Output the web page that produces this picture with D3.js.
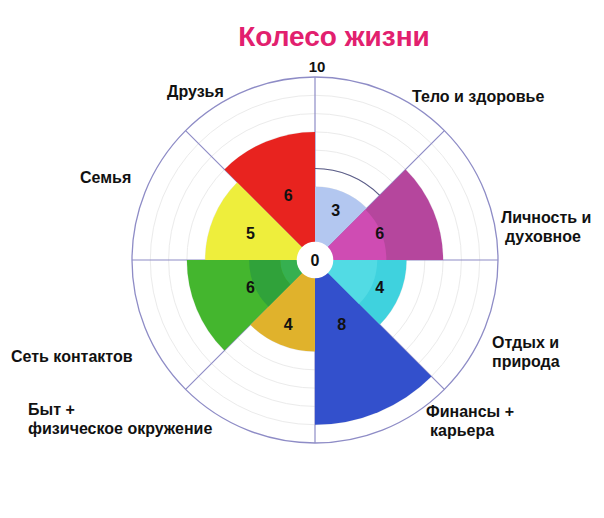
<!DOCTYPE html>
<html>
<head>
<meta charset="utf-8">
<script src="https://cdn.jsdelivr.net/npm/d3@7"></script>
<style>
  body { margin: 0; background: #fff; }
  text { font-family: "Liberation Sans", Arial, sans-serif; font-weight: bold; }
</style>
</head>
<body>
<div id="container"></div>
<script>
// Sectors clockwise from 12 o'clock
const categories = [
  ["Тело и здоровье"],
  ["Личность и", "духовное"],
  ["Отдых и", "природа"],
  ["Финансы +", "карьера"],
  ["Быт +", "физическое окружение"],
  ["Сеть контактов"],
  ["Семья"],
  ["Друзья"]
];
const values = [3, 6, 4, 8, 4, 6, 5, 6];
const sectorColors = ["#b3c7f0", "#b5469d", "#3fd2de", "#3350cc", "#e0b22c", "#44b62e", "#eeee3c", "#e8231f"];
const scaleLabels = ["0", "10"];
const title = "Колесо жизни";

const width = 604, height = 518;
const cx = 315, cy = 260, R = 183;

// label layout (left x, baseline y), indent of second line
const labelPos = [[412, 102], [501, 223], [492, 348], [426, 417], [28, 415], [11, 362], [80, 183], [167, 97]];
const lineIndent = [0, 4, 0, 4, 0, 0, 0, 0];

const svg = d3.select("#container")
  .append("svg")
  .attr("width", width)
  .attr("height", height);

const g = svg.append("g").attr("transform", `translate(${cx},${cy})`);

// value -> radius, 0 sits on the edge of the centre hole
const r = d3.scaleLinear().domain([-1, 9]).range([0, R]);
const step = 2 * Math.PI / categories.length;

// faint rings
g.selectAll("circle.ring")
  .data(d3.range(0, 9))
  .join("circle")
  .attr("class", "ring")
  .attr("r", d => r(d))
  .attr("fill", "none")
  .attr("stroke", "#ebebeb")
  .attr("stroke-width", 1);

// spokes
g.selectAll("line.spoke")
  .data(categories)
  .join("line")
  .attr("class", "spoke")
  .attr("x1", 0).attr("y1", 0)
  .attr("x2", (d, i) => R * Math.sin(i * step))
  .attr("y2", (d, i) => -R * Math.cos(i * step))
  .attr("stroke", "#8e8cc6")
  .attr("stroke-width", 1.2);

// outer circle
g.append("circle")
  .attr("r", r(9))
  .attr("fill", "none")
  .attr("stroke", "#8e8cc6")
  .attr("stroke-width", 1.3);

// darker arc in first sector
g.append("path")
  .attr("d", d3.arc()({ innerRadius: r(4), outerRadius: r(4), startAngle: 0, endAngle: step }))
  .attr("fill", "none")
  .attr("stroke", "#5a5c88")
  .attr("stroke-width", 1.2);

const arc = d3.arc();

// sectors
g.selectAll("path.sector")
  .data(values)
  .join("path")
  .attr("class", "sector")
  .attr("d", (d, i) => arc({ innerRadius: 0, outerRadius: r(d), startAngle: i * step, endAngle: (i + 1) * step }))
  .attr("fill", (d, i) => sectorColors[i]);

// inner shading seen in a few sectors
const shades = [
  { i: 1, from: -1, to: 2.9, color: "#cf4cb3" },
  { i: 2, from: -1, to: 2.4, color: "#52dbe4" },
  { i: 5, from: -1, to: 0.9, color: "#36b050" },
  { i: 5, from: 0.9, to: 2.6, color: "#30a23a" }
];
g.selectAll("path.shade")
  .data(shades)
  .join("path")
  .attr("class", "shade")
  .attr("d", d => arc({ innerRadius: r(d.from), outerRadius: r(d.to), startAngle: d.i * step, endAngle: (d.i + 1) * step }))
  .attr("fill", d => d.color);

// value labels
g.selectAll("text.value")
  .data(values)
  .join("text")
  .attr("class", "value")
  .attr("x", (d, i) => Math.min(r(d) - 19, 70) * Math.sin((i + 0.5) * step))
  .attr("y", (d, i) => -Math.min(r(d) - 19, 70) * Math.cos((i + 0.5) * step))
  .attr("dy", "0.36em")
  .attr("text-anchor", "middle")
  .attr("font-size", 16)
  .attr("fill", "#111")
  .text(d => d);

// centre hole
g.append("circle")
  .attr("r", r(0))
  .attr("fill", "#fff");

g.append("text")
  .attr("x", 0).attr("y", 0)
  .attr("dy", "0.36em")
  .attr("text-anchor", "middle")
  .attr("font-size", 16)
  .attr("fill", "#111")
  .text(scaleLabels[0]);

g.append("text")
  .attr("x", 2).attr("y", -r(9) - 5)
  .attr("text-anchor", "middle")
  .attr("font-size", 15)
  .attr("fill", "#111")
  .text(scaleLabels[1]);

// category labels
categories.forEach((lines, i) => {
  const t = svg.append("text")
    .attr("font-size", 16)
    .attr("fill", "#111");
  lines.forEach((line, j) => {
    t.append("tspan")
      .attr("x", labelPos[i][0] + (j ? lineIndent[i] : 0))
      .attr("y", labelPos[i][1] + j * 18.5)
      .text(line);
  });
});

// title
svg.append("text")
  .attr("x", 334)
  .attr("y", 46)
  .attr("text-anchor", "middle")
  .attr("font-size", 28)
  .attr("fill", "#e2206e")
  .text(title);
</script>
</body>
</html>
